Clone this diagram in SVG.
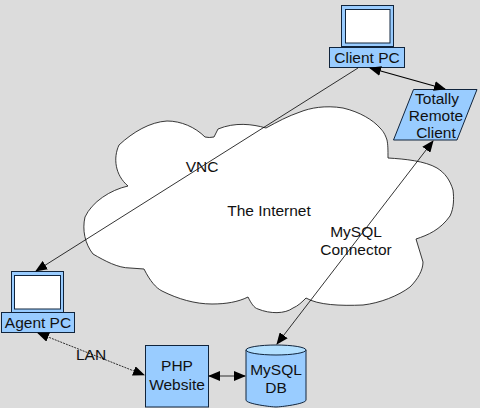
<svg xmlns="http://www.w3.org/2000/svg" width="480" height="408" viewBox="0 0 480 408">
<style>
text{font-family:"Liberation Sans",Arial,sans-serif;font-size:15.500px;fill:#111;text-anchor:middle}
.b{fill:#99ccff;stroke:#10243c;stroke-width:1}
.s{fill:#fff;stroke:#10243c;stroke-width:1}
.c{fill:none;stroke:#000;stroke-width:.8}
</style>
<defs>
<marker id="a" viewBox="0 0 12 10" refX="11" refY="5" markerWidth="12" markerHeight="10" markerUnits="userSpaceOnUse" orient="auto-start-reverse"><path d="M0 0L12 5L0 10Z" fill="#000"/></marker>
</defs>
<rect width="480" height="408" fill="#dcdcdc"/>
<g id="cloud">
<path d="M266 128C252 124 235 122 218 129L214 137Q209 138 205 137C195 127 181 121 167 121C150 122 133 132 119 145C113 158 115 175 128 186C110 190 92 202 85 217C82 230 85 244 93 254C105 261 118 268 130 268L144 269C150 281 156 288 162 291C178 299 195 304 212 304C226 304 238 302 248 297C251 303 254 308 258 309C270 314 285 314 293 308C298 306 302 302 306 298C318 305 340 306 363 305C380 303 398 296 410 287C418 279 423 270 423 262L416 239C428 235 440 230 450 216C454 208 454 198 453 190C450 180 445 173 437 168C425 161 405 159 388 158C388 150 388 145 387 140C385 134 383 131 380 128C373 120 360 112 343 108C325 105 310 108 300 112C288 116 277 122 266 128Z" fill="#fff" stroke="#222" stroke-width=".9" stroke-linejoin="round"/>
<text x="269" y="216">The Internet</text>
</g>
<g id="client-pc">
<rect class="b" x="341.500" y="5.500" width="52" height="41"/>
<rect class="s" x="345.500" y="9.500" width="44.500" height="33.500"/>
<rect class="b" x="329.500" y="47.500" width="75" height="20"/>
<text x="367" y="63">Client PC</text>
</g>
<g id="agent-pc">
<rect class="b" x="11.500" y="271.500" width="52" height="41"/>
<rect class="s" x="14.500" y="275.500" width="46" height="33.500"/>
<rect class="b" x="1.500" y="312.500" width="73" height="20"/>
<text x="38" y="328">Agent PC</text>
</g>
<g id="remote-client">
<path class="b" d="M413.500 89.500H477L457 140H393.500Z"/>
<text x="437" y="104">Totally</text>
<text x="436" y="121">Remote</text>
<text x="436" y="138">Client</text>
</g>
<g id="php-website">
<rect class="b" x="145.500" y="345.500" width="63" height="61.500"/>
<text x="177" y="371">PHP</text>
<text x="177" y="390">Website</text>
</g>
<g id="mysql-db">
<path class="b" d="M246 350V400C246 404 272 407 276 407C280 407 306 404 306 400V350Z"/>
<ellipse cx="276" cy="350" rx="30" ry="5" fill="#b3e0ff" stroke="#10243c"/>
<text x="276" y="375">MySQL</text>
<text x="276" y="393">DB</text>
</g>
<g id="connectors">
<line class="c" x1="358" y1="68" x2="36" y2="271" marker-end="url(#a)"/>
<line class="c" x1="370" y1="68" x2="445" y2="89" style="stroke-width:1.200" marker-start="url(#a)" marker-end="url(#a)"/>
<line class="c" x1="433" y1="141" x2="277" y2="344" marker-start="url(#a)" marker-end="url(#a)"/>
<line class="c" x1="38" y1="333" x2="144" y2="375" stroke-dasharray="2 1" marker-start="url(#a)" marker-end="url(#a)"/>
<line class="c" x1="209" y1="376" x2="245" y2="376" marker-start="url(#a)" marker-end="url(#a)"/>
</g>
<g id="labels">
<text x="202" y="172">VNC</text>
<text x="91" y="360">LAN</text>
<text x="356" y="237">MySQL</text>
<text x="356" y="255">Connector</text>
</g>
</svg>
